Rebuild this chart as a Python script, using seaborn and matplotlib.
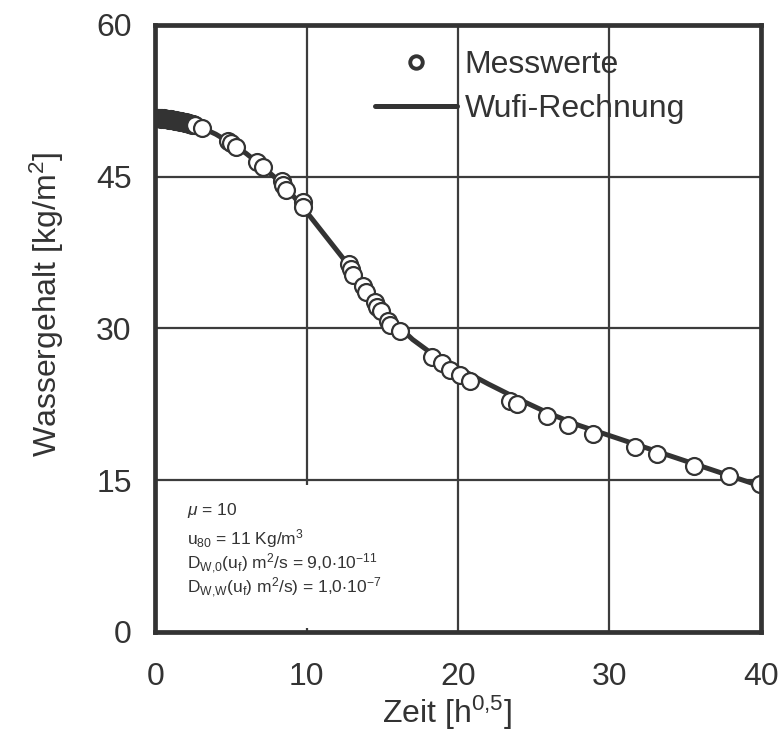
import matplotlib
matplotlib.use("Agg")
import matplotlib.pyplot as plt
from matplotlib.lines import Line2D
from matplotlib.patches import Rectangle
import seaborn as sns

# Measured water content (Messwerte): dense early readings ...
early_t = [0.10, 0.15, 0.20, 0.25, 0.30, 0.35, 0.40, 0.45, 0.50, 0.55, 0.60,
           0.65, 0.70, 0.75, 0.80, 0.85, 0.90, 0.95, 1.00, 1.05, 1.10, 1.15,
           1.20, 1.25, 1.30, 1.35, 1.40, 1.45, 1.50, 1.55, 1.60, 1.65, 1.70,
           1.75, 1.80, 1.85, 1.90, 1.95, 2.00, 2.05, 2.10, 2.15, 2.20, 2.25,
           2.30, 2.35, 2.40, 2.45, 2.50, 2.55, 2.60]
early_w = [50.85, 50.8, 50.85, 50.8, 50.8, 50.85, 50.75, 50.8, 50.75, 50.8, 50.75,
           50.7, 50.75, 50.7, 50.75, 50.7, 50.65, 50.7, 50.65, 50.7, 50.6, 50.65,
           50.6, 50.6, 50.55, 50.6, 50.55, 50.5, 50.55, 50.5, 50.5, 50.45, 50.5,
           50.4, 50.45, 50.4, 50.4, 50.35, 50.4, 50.3, 50.35, 50.3, 50.25, 50.3,
           50.2, 50.25, 50.2, 50.15, 50.2, 50.1, 50.1]
# ... and the later readings
late_t = [3.07, 4.8, 5.0, 5.33, 6.74, 7.12, 8.36, 8.47, 8.64, 9.74, 9.78,
          12.8, 12.95, 13.05, 13.7, 13.9, 14.5, 14.65, 14.9, 15.4, 15.5, 16.17,
          18.26, 18.92, 19.47, 20.13, 20.8, 23.44, 23.92, 25.86, 27.29, 28.9,
          31.7, 33.17, 35.6, 37.9, 39.95]
late_w = [49.8, 48.5, 48.3, 47.9, 46.5, 46.0, 44.6, 44.2, 43.7, 42.5, 42.0,
          36.4, 35.9, 35.3, 34.2, 33.6, 32.6, 32.1, 31.7, 30.7, 30.3, 29.7,
          27.2, 26.55, 25.9, 25.4, 24.8, 22.8, 22.5, 21.3, 20.45, 19.6,
          18.3, 17.55, 16.4, 15.4, 14.6]

# WUFI simulation (Wufi-Rechnung)
sim_t = [0, 1, 2, 3, 4, 5, 6, 7, 8, 9, 10, 11, 12, 13, 14, 15, 16, 17, 18, 19, 20,
         22, 24, 26, 28, 30, 32, 34, 36, 38, 40]
sim_w = [50.8, 50.7, 50.4, 49.9, 49.2, 48.3, 47.3, 46.1, 44.8, 43.3, 41.5, 39.6,
         37.7, 35.8, 33.9, 32.0, 30.3, 28.9, 27.8, 26.9, 26.1,
         24.5, 23.0, 21.6, 20.4, 19.4, 18.4, 17.4, 16.4, 15.4, 14.4]

x_ticks = [0, 10, 20, 30, 40]
y_ticks = [0, 15, 30, 45, 60]

params = [
    (r"$\mathit{\mu}$ = 10", 515),
    (r"u$_{80}$ = 11 Kg/m$^{3}$", 544),
    (r"D$_{W{,}0}$(u$_{f}$) m$^{2}$/s = 9,0$\cdot$10$^{-11}$", 569),
    (r"D$_{W{,}W}$(u$_{f}$) m$^{2}$/s) = 1,0$\cdot$10$^{-7}$", 593),
]

sns.set_style("white")
plt.rcParams["font.family"] = ["Liberation Sans", "DejaVu Sans"]
plt.rcParams["mathtext.fontset"] = "custom"
plt.rcParams["mathtext.rm"] = "Liberation Sans"
plt.rcParams["mathtext.it"] = "Liberation Sans:italic"
plt.rcParams["mathtext.bf"] = "Liberation Sans:bold"
plt.rcParams["mathtext.default"] = "regular"

ink = "#333333"
W, H = 784, 735
fs = 23
fig = plt.figure(figsize=(W / 100, H / 100), dpi=100)
x0, x1, ytop, ybot = 155.3, 760.7, 25.0, 631.7
ax = fig.add_axes([x0 / W, 1 - ybot / H, (x1 - x0) / W, (ybot - ytop) / H])

ax.set_xlim(0, 40)
ax.set_ylim(0, 60)
ax.set_xticks(x_ticks)
ax.set_yticks(y_ticks)
ax.set_axisbelow(True)
ax.grid(True, color="#3c3c3c", lw=1.6)

sns.lineplot(x=sim_t, y=sim_w, ax=ax, color=ink, lw=3.6, zorder=3, sort=False)
sns.scatterplot(x=early_t + late_t, y=early_w + late_w, ax=ax, s=148,
                facecolor="white", edgecolor=ink, linewidth=1.6, zorder=4,
                clip_on=True)

for sp in ax.spines.values():
    sp.set_color(ink)
    sp.set_linewidth(3.4)
    sp.set_zorder(6)

ax.tick_params(axis="both", length=0, labelsize=fs, colors=ink)
ax.tick_params(axis="x", pad=22)
ax.tick_params(axis="y", pad=17)

ax.set_xlabel("Zeit [h$^{0{,}5}$]", fontsize=fs, color=ink)
ax.set_ylabel("Wassergehalt [kg/m$^{2}$]", fontsize=fs, color=ink)
ax.xaxis.set_label_coords(0.482, -0.103)
ax.yaxis.set_label_coords(-0.148, 0.54)

# white panel behind the parameter block
ax.add_patch(Rectangle((0.004, 0.006), 0.42, 0.235, transform=ax.transAxes,
                       facecolor="white", edgecolor="none", zorder=1))
for txt, py in params:
    ax.text((187 - x0) / (x1 - x0), (ybot - py) / (ybot - ytop), txt,
            transform=ax.transAxes, fontsize=12.5, color=ink,
            ha="left", va="baseline", zorder=5)

handles = [
    Line2D([], [], marker="o", ls="none", mfc="white", mec=ink, ms=9, mew=2.8),
    Line2D([], [], color=ink, lw=3.6),
]
ax.legend(handles, ["Messwerte", "Wufi-Rechnung"], loc="upper left",
          bbox_to_anchor=(375 / W, 1 - 50 / H), bbox_transform=fig.transFigure,
          frameon=False, fontsize=fs, handlelength=2.57, handletextpad=0.24,
          labelspacing=0.45, borderpad=0, borderaxespad=0, labelcolor=ink)

fig.savefig("out.png", dpi=100)
